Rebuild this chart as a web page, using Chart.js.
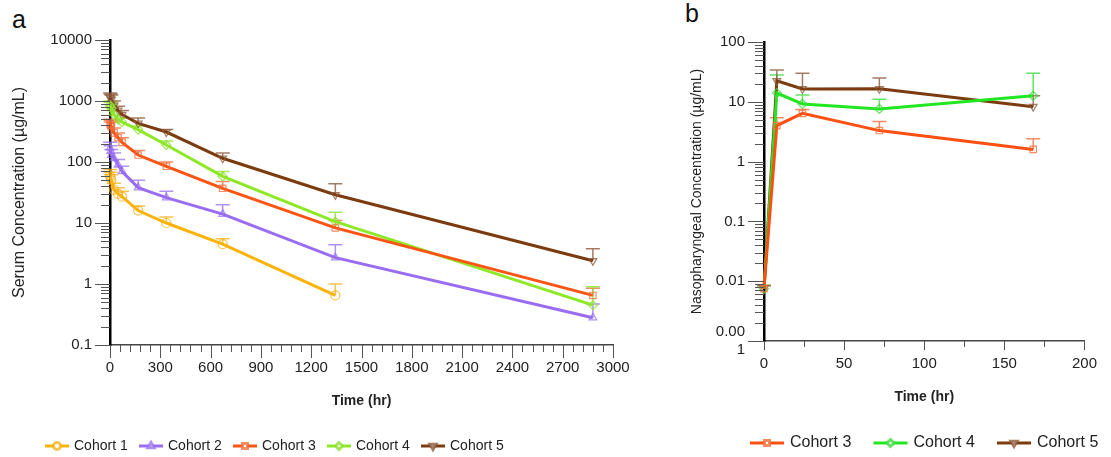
<!DOCTYPE html>
<html>
<head>
<meta charset="utf-8">
<script src="https://cdn.jsdelivr.net/npm/chart.js@4.4.1/dist/chart.umd.min.js"></script>
<style>
  body { margin: 0; background: #fff; width: 1111px; height: 457px; position: relative; overflow: hidden;
         font-family: "Liberation Sans", Arial, sans-serif; }
  #left { position: absolute; left: 0; top: 0; }
  #right { position: absolute; left: 680px; top: 0; }
  .panel { position: absolute; font-size: 25px; line-height: 1; color: #111; }
</style>
</head>
<body>
<div class="panel" style="left:12px;top:7px">a</div>
<div class="panel" style="left:685px;top:1px">b</div>
<canvas id="left" width="680" height="457"></canvas>
<canvas id="right" width="431" height="457"></canvas>
<script>
// panel a: serum concentration, hours after dose
const serumTimes = [1, 4, 8, 24, 48, 72, 168, 336, 672, 1344, 2880];
const serumC1 = [60, 55, 50, 35, 30, 27, 16, 10, 4.5, 0.65, null];
const serumC1Hi = [75, 68, 62, 45, 38, 33, 19, 12.5, 5.5, 1.0, null];
const serumC2 = [170, 150, 130, 115, 90, 70, 38, 26, 14, 2.7, 0.28];
const serumC2Hi = [210, 185, 160, 140, 110, 85, 50, 33, 20, 4.4, 0.47];
const serumC3 = [420, 400, 380, 300, 250, 210, 130, 85, 37, 8.3, 0.65];
const serumC3Hi = [500, 480, 450, 360, 300, 250, 155, 100, 48, 11, 0.85];
const serumC4 = [850, 800, 750, 600, 500, 450, 340, 190, 58, 10.5, 0.45];
const serumC4Hi = [1000, 950, 880, 700, 580, 520, 390, 220, 70, 15, 0.9];
const serumC5 = [1150, 1100, 1050, 850, 700, 600, 430, 310, 115, 29, 2.4];
const serumC5Hi = [1350, 1300, 1250, 1000, 820, 700, 525, 340, 140, 44, 3.8];

// panel b: nasopharyngeal concentration
const npTimes = [0, 8, 24, 72, 168];
const npC3 = [0.0075, 4.0, 6.4, 3.3, 1.6];
const npC3Hi = [0.0085, 5.4, 7.4, 4.7, 2.4];
const npC4 = [0.0075, 14, 9.2, 7.6, 12.6];
const npC4Hi = [0.0085, 28, 13, 11, 30];
const npC5 = [0.0075, 22.4, 16.4, 16.5, 8.3];
const npC5Hi = [0.0085, 34, 30, 25, 12.6];

const serumXTicks = [0, 300, 600, 900, 1200, 1500, 1800, 2100, 2400, 2700, 3000];
const serumYTicks = [0.1, 1, 10, 100, 1000, 10000];
const npXTicks = [0, 50, 100, 150, 200];
const npYTicks = [0.001, 0.01, 0.1, 1, 10, 100];

Chart.defaults.font.family = '"Liberation Sans", Arial, sans-serif';
Chart.defaults.color = '#222';

function series(label, times, vals, his, color, faint, style, rot) {
    return {
        label: label,
        data: times.map((t, i) => ({ x: t, y: vals[i], hi: his[i] })).filter(p => p.y != null),
        borderColor: color,
        borderWidth: 3,
        pointStyle: style,
        pointRotation: rot || 0,
        pointRadius: 4.5,
        pointBorderWidth: 1.2,
        pointBorderColor: faint,
        pointBackgroundColor: 'rgba(0,0,0,0)',
        errColor: faint,
        tension: 0,
        clip: false
    };
}

// upper-only error bars, drawn under the lines
const errorBars = {
    id: 'errorBars',
    beforeDatasetsDraw(chart) {
        const ctx = chart.ctx;
        const ys = chart.scales.y;
        chart.data.datasets.forEach((ds, i) => {
            const meta = chart.getDatasetMeta(i);
            ctx.save();
            ctx.strokeStyle = ds.errColor;
            ctx.lineWidth = 1.5;
            ctx.beginPath();
            meta.data.forEach((pt, j) => {
                const hi = ds.data[j].hi;
                if (hi == null) return;
                const top = ys.getPixelForValue(hi);
                ctx.moveTo(pt.x, pt.y);
                ctx.lineTo(pt.x, top);
                ctx.moveTo(pt.x - 7, top);
                ctx.lineTo(pt.x + 7, top);
            });
            ctx.stroke();
            ctx.restore();
        });
    }
};

// major/minor tick marks on both axes
const axisTicks = {
    id: 'axisTicks',
    afterDraw(chart, args, o) {
        const { ctx, chartArea: a, scales: { x, y } } = chart;
        ctx.save();
        ctx.strokeStyle = '#555';
        ctx.lineWidth = 1;
        ctx.beginPath();
        for (let v = x.min; v <= x.max + 1e-9; v += o.xMinor) {
            const px = Math.round(x.getPixelForValue(v)) + 0.5;
            const major = Math.abs(v / o.xMajor - Math.round(v / o.xMajor)) < 1e-6;
            ctx.moveTo(px, a.bottom);
            ctx.lineTo(px, a.bottom + (major ? o.xMajorLen : o.xMinorLen));
        }
        const e0 = Math.round(Math.log10(y.min)), e1 = Math.round(Math.log10(y.max));
        for (let e = e0; e <= e1; e++) {
            for (let k = 1; k <= 9; k++) {
                if (e === e1 && k > 1) break;
                const py = Math.round(y.getPixelForValue(k * Math.pow(10, e))) + 0.5;
                ctx.moveTo(a.left, py);
                ctx.lineTo(a.left - (k === 1 ? o.yMajorLen : o.yMinorLen), py);
            }
        }
        ctx.stroke();
        ctx.restore();
    }
};

// legend: short line with a hollow marker in the middle
const lineLegend = {
    id: 'lineLegend',
    afterDraw(chart, args, o) {
        const ctx = chart.ctx;
        ctx.save();
        ctx.font = o.font;
        ctx.textBaseline = 'middle';
        chart.data.datasets.forEach((ds, i) => {
            const x = o.x0 + i * o.step;
            ctx.strokeStyle = ds.borderColor;
            ctx.lineWidth = 3;
            ctx.beginPath();
            ctx.moveTo(x, o.y);
            ctx.lineTo(x + o.lineLen, o.y);
            ctx.stroke();
            ctx.strokeStyle = ds.errColor;
            ctx.fillStyle = '#fff';
            Chart.helpers.drawPoint(ctx, { pointStyle: ds.pointStyle, rotation: ds.pointRotation, radius: 3.5, borderWidth: 1.2 },
                x + o.lineLen / 2, o.y);
            ctx.fillStyle = '#222';
            ctx.fillText(ds.label, x + o.lineLen + o.gap, o.y);
        });
        ctx.restore();
    }
};

function logLabel(v) {
    return String(Number(v.toPrecision(6)));
}

function makeOptions(cfg) {
    return {
        responsive: false,
        animation: false,
        layout: { padding: cfg.padding },
        plugins: {
            legend: { display: false },
            tooltip: { enabled: false },
            axisTicks: cfg.ticks,
            lineLegend: cfg.legend
        },
        scales: {
            x: {
                type: 'linear',
                min: cfg.xTicks[0],
                max: cfg.xTicks[cfg.xTicks.length - 1],
                afterBuildTicks: s => { s.ticks = cfg.xTicks.map(v => ({ value: v })); },
                afterFit: s => { s.height = cfg.xHeight; },
                grid: { display: false, drawTicks: false },
                border: { display: true, color: '#444', width: 1.5 },
                ticks: { padding: cfg.xPad, font: { size: 15 }, color: '#222', autoSkip: false, maxRotation: 0,
                         callback: v => String(v) },
                title: { display: true, text: 'Time (hr)', padding: 0, font: { size: 14, weight: 'bold' }, color: '#222' }
            },
            y: {
                type: 'logarithmic',
                min: cfg.yTicks[0],
                max: cfg.yTicks[cfg.yTicks.length - 1],
                afterBuildTicks: s => { s.ticks = cfg.yTicks.map(v => ({ value: v })); },
                afterFit: s => { s.width = cfg.yWidth; },
                grid: { display: false, drawTicks: false },
                border: { display: true, color: '#000', width: 2.5 },
                ticks: { padding: cfg.yPad, font: { size: 15 }, color: '#222', autoSkip: false, callback: cfg.yLabel },
                title: { display: true, text: cfg.yTitle, padding: 0, font: { size: cfg.yTitleSize }, color: '#222' }
            }
        }
    };
}

new Chart(document.getElementById('left'), {
    type: 'line',
    data: {
        datasets: [
            series('Cohort 1', serumTimes, serumC1, serumC1Hi, '#fbb30a', 'rgba(245,175,20,0.75)', 'circle'),
            series('Cohort 2', serumTimes, serumC2, serumC2Hi, '#9a6cf2', 'rgba(150,110,240,0.75)', 'triangle'),
            series('Cohort 3', serumTimes, serumC3, serumC3Hi, '#fc5413', 'rgba(240,110,60,0.8)', 'rect'),
            series('Cohort 4', serumTimes, serumC4, serumC4Hi, '#8ee826', 'rgba(140,225,50,0.8)', 'rectRot'),
            series('Cohort 5', serumTimes, serumC5, serumC5Hi, '#7b3b0f', 'rgba(140,90,60,0.8)', 'triangle', 180)
        ]
    },
    options: makeOptions({
        padding: { left: 10, right: 67, top: 40, bottom: 47 },
        xTicks: serumXTicks,
        yTicks: serumYTicks,
        xHeight: 65,
        yWidth: 100,
        xPad: 14,
        yPad: 18,
        yTitle: 'Serum Concentration (µg/mL)',
        yTitleSize: 16,
        yLabel: v => logLabel(v),
        ticks: { xMinor: 60, xMajor: 300, xMajorLen: 13, xMinorLen: 7, yMajorLen: 15, yMinorLen: 9 },
        legend: { x0: 45, step: 94, y: 446, lineLen: 24, gap: 5, font: '14px "Liberation Sans", Arial, sans-serif' }
    }),
    plugins: [errorBars, axisTicks, lineLegend]
});

new Chart(document.getElementById('right'), {
    type: 'line',
    data: {
        datasets: [
            series('Cohort 3', npTimes, npC3, npC3Hi, '#fc4f12', 'rgba(240,110,60,0.8)', 'rect'),
            series('Cohort 4', npTimes, npC4, npC4Hi, '#22e622', 'rgba(60,220,60,0.8)', 'rectRot'),
            series('Cohort 5', npTimes, npC5, npC5Hi, '#7b3b0f', 'rgba(140,90,60,0.8)', 'triangle', 180)
        ]
    },
    options: makeOptions({
        padding: { left: 9, right: 16, top: 42, bottom: 51 },
        xTicks: npXTicks,
        yTicks: npYTicks,
        xHeight: 65,
        yWidth: 75,
        xPad: 14,
        yPad: 19,
        yTitle: 'Nasopharyngeal Concentration (µg/mL)',
        yTitleSize: 14,
        yLabel: v => (v < 0.005 ? ['0.00', '1'] : logLabel(v)),
        ticks: { xMinor: 25, xMajor: 50, xMajorLen: 9, xMinorLen: 6, yMajorLen: 16, yMinorLen: 9 },
        legend: { x0: 70, step: 123.5, y: 443, lineLen: 34, gap: 6, font: '16px "Liberation Sans", Arial, sans-serif' }
    }),
    plugins: [errorBars, axisTicks, lineLegend]
});
</script>
</body>
</html>
